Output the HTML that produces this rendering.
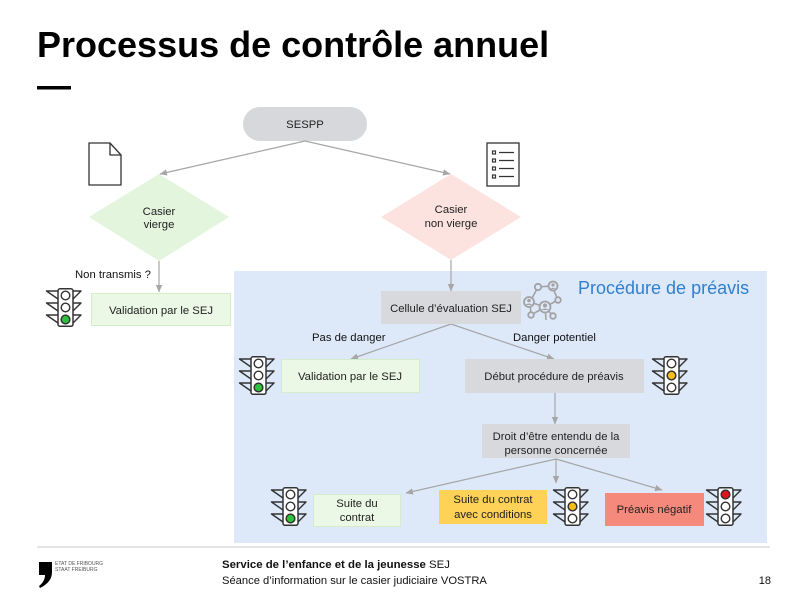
<!DOCTYPE html>
<html><head><meta charset="utf-8"><style>
html,body{margin:0;padding:0;background:#fff;}
body{width:796px;height:603px;overflow:hidden;position:relative;font-family:"Liberation Sans",Arial,sans-serif;}
svg{position:absolute;left:0;top:0;}
</style></head><body>
<svg width="796" height="603" viewBox="0 0 796 603" xmlns="http://www.w3.org/2000/svg" font-family="Liberation Sans, Arial, sans-serif">
<defs>
<marker id="ah" markerWidth="8" markerHeight="8" refX="7" refY="4" orient="auto" markerUnits="userSpaceOnUse">
<path d="M0,0.8 L7.5,4 L0,7.2 Z" fill="#a6a6a6"/>
</marker>
<g id="tl">
<rect x="13" y="0.8" width="15" height="37.5" rx="2" fill="#fff" stroke="#333" stroke-width="1.5"/>
<circle cx="20.5" cy="7.5" r="4.3" fill="#fff" stroke="#333" stroke-width="1.4"/>
<circle cx="20.5" cy="19.5" r="4.3" fill="#fff" stroke="#333" stroke-width="1.4"/>
<circle cx="20.5" cy="31.5" r="4.3" fill="#fff" stroke="#333" stroke-width="1.4"/>
<path d="M13,3 L1.5,3 L13,11 M13,15 L1.5,15 L13,23 M13,27 L1.5,27 L13,35 M28,3 L36,3 L28,11 M28,15 L36,15 L28,23 M28,27 L36,27 L28,35" fill="none" stroke="#333" stroke-width="1.4" stroke-linejoin="round"/>
</g>
</defs>

<!-- Title -->
<text x="37" y="57" font-size="36" font-weight="bold" fill="#000">Processus de contrôle annuel</text>
<rect x="37" y="86" width="34" height="3.5" fill="#000"/>

<!-- blue region -->
<rect x="234" y="271" width="533" height="272" fill="#dde9f9"/>
<text x="578" y="294" font-size="18" fill="#2f7fd0">Procédure de préavis</text>

<!-- SESPP -->
<rect x="243" y="107" width="124" height="34" rx="17" fill="#d6d8db"/>
<text x="305" y="128" font-size="11.3" text-anchor="middle" fill="#222">SESPP</text>

<!-- document icon -->
<path d="M89,143 L110,143 L121,155 L121,185 L89,185 Z M110,143 L110,155 L121,155" fill="#fff" stroke="#333" stroke-width="1.3" stroke-linejoin="round"/>

<!-- checklist icon -->
<rect x="487" y="143" width="32" height="43" fill="#fff" stroke="#333" stroke-width="1.3"/>
<g fill="none" stroke="#333" stroke-width="1.2">
<rect x="492.5" y="151" width="3" height="3"/><rect x="492.5" y="159" width="3" height="3"/><rect x="492.5" y="167" width="3" height="3"/><rect x="492.5" y="175" width="3" height="3"/>
<path d="M499,152.5 H514 M499,160.5 H514 M499,168.5 H514 M499,176.5 H514"/>
</g>

<!-- diamonds -->
<polygon points="159,174 229,217 159,261 89,217" fill="#e3f5dd"/>
<text x="159" y="215" font-size="11.3" text-anchor="middle" fill="#222">Casier</text>
<text x="159" y="228" font-size="11.3" text-anchor="middle" fill="#222">vierge</text>
<polygon points="451,174 521,217 451,260 381,217" fill="#fde3df"/>
<text x="451" y="213" font-size="11.3" text-anchor="middle" fill="#222">Casier</text>
<text x="451" y="227" font-size="11.3" text-anchor="middle" fill="#222">non vierge</text>

<!-- arrows -->
<g stroke="#a6a6a6" stroke-width="1.2" fill="none" marker-end="url(#ah)">
<path d="M305,141 L160,174"/>
<path d="M305,141 L450,174"/>
<path d="M159,261 L159,292"/>
<path d="M451,260 L451,291"/>
<path d="M451,324 L351,359"/>
<path d="M451,324 L554,359"/>
<path d="M555,393 L555,424"/>
<path d="M556,459 L406,493"/>
<path d="M556,459 L556,483"/>
<path d="M556,459 L662,490"/>
</g>

<text x="75" y="278" font-size="11.3" fill="#111">Non transmis ?</text>

<!-- Validation 1 -->
<rect x="91.5" y="293.5" width="139" height="32" fill="#ebf8e5" stroke="#d3ecca" stroke-width="1"/>
<text x="161" y="314" font-size="11.3" text-anchor="middle" fill="#222">Validation par le SEJ</text>
<use href="#tl" x="45" y="288"/>
<circle cx="65.5" cy="319.5" r="4.3" fill="#2fc13e" stroke="#333" stroke-width="1.4"/>

<!-- Cellule -->
<rect x="381" y="291" width="140" height="33" fill="#d7d9dc"/>
<text x="451" y="312" font-size="11.3" text-anchor="middle" fill="#222">Cellule d’évaluation SEJ</text>

<!-- network icon -->
<g stroke="#a2a2a4" stroke-width="1.6" fill="none">
<path d="M538,287 L552,286 L558,300 L545,307 L530,302 L538,287 M530,302 L531,315 L545,307 L553,316 M545,307 L546,320"/>
</g>
<g fill="#dde9f9" stroke="#a2a2a4" stroke-width="1.8">
<circle cx="538" cy="287" r="3.2"/><circle cx="553" cy="286" r="4.5"/><circle cx="558" cy="300" r="2.8"/>
<circle cx="529" cy="302" r="5"/><circle cx="545" cy="307" r="5.5"/><circle cx="531" cy="315" r="2.8"/><circle cx="553" cy="316" r="2.8"/>
</g>
<g fill="#a2a2a4">
<circle cx="529" cy="300.5" r="1.8"/><path d="M525.5,305 Q529,302 532.5,305 Z"/>
<circle cx="545" cy="305.5" r="2"/><path d="M541,310 Q545,307 549,310 Z"/>
<circle cx="553" cy="285" r="1.6"/><path d="M550,289 Q553,286.5 556,289 Z"/>
</g>

<text x="312" y="341" font-size="11.3" fill="#111">Pas de danger</text>
<text x="513" y="341" font-size="11.3" fill="#111">Danger potentiel</text>

<!-- Validation 2 -->
<rect x="281.5" y="359.5" width="138" height="33" fill="#ebf8e5" stroke="#d3ecca" stroke-width="1"/>
<text x="350" y="380" font-size="11.3" text-anchor="middle" fill="#222">Validation par le SEJ</text>
<use href="#tl" x="238" y="356"/>
<circle cx="258.5" cy="387.5" r="4.3" fill="#2fc13e" stroke="#333" stroke-width="1.4"/>

<!-- Debut -->
<rect x="465" y="359" width="179" height="34" fill="#d7d9dc"/>
<text x="554" y="380" font-size="11.3" text-anchor="middle" fill="#222">Début procédure de préavis</text>
<use href="#tl" x="651" y="356"/>
<circle cx="671.5" cy="375.5" r="4.3" fill="#f6bd16" stroke="#333" stroke-width="1.4"/>

<!-- Droit -->
<rect x="482" y="424" width="148" height="34" fill="#d7d9dc"/>
<text x="556" y="440" font-size="11.3" text-anchor="middle" fill="#222">Droit d’être entendu de la</text>
<text x="556" y="454" font-size="11.3" text-anchor="middle" fill="#222">personne concernée</text>

<!-- Suite du contrat -->
<rect x="313.5" y="494.5" width="87" height="32" fill="#ebf8e5" stroke="#d3ecca" stroke-width="1"/>
<text x="357" y="507" font-size="11.3" text-anchor="middle" fill="#222">Suite du</text>
<text x="357" y="521" font-size="11.3" text-anchor="middle" fill="#222">contrat</text>
<use href="#tl" x="270" y="487"/>
<circle cx="290.5" cy="518.5" r="4.3" fill="#2fc13e" stroke="#333" stroke-width="1.4"/>

<!-- avec conditions -->
<rect x="439" y="490" width="108" height="34" fill="#fdd257"/>
<text x="493" y="503" font-size="11.3" text-anchor="middle" fill="#222">Suite du contrat</text>
<text x="493" y="518" font-size="11.3" text-anchor="middle" fill="#222">avec conditions</text>
<use href="#tl" x="552" y="487"/>
<circle cx="572.5" cy="506.5" r="4.3" fill="#f6bd16" stroke="#333" stroke-width="1.4"/>

<!-- Préavis négatif -->
<rect x="605" y="493" width="99" height="33" fill="#f4897c"/>
<text x="654" y="513" font-size="11.3" text-anchor="middle" fill="#222">Préavis négatif</text>
<use href="#tl" x="705" y="487"/>
<circle cx="725.5" cy="494.5" r="4.3" fill="#e8121b" stroke="#333" stroke-width="1.4"/>

<!-- footer -->
<rect x="37" y="546.5" width="733" height="1" fill="#c9c9c9"/>
<path d="M39,562 L52,562 L52,572 C52,579 48,584 40,588 L39,586 C43,583 45,579 45,575 L39,575 Z" fill="#000"/>
<text x="55" y="565" font-size="5" fill="#555">ETAT DE FRIBOURG</text>
<text x="55" y="571" font-size="5" fill="#555">STAAT FREIBURG</text>
<text x="222" y="568" font-size="11.4" fill="#111"><tspan font-weight="bold">Service de l’enfance et de la jeunesse</tspan> SEJ</text>
<text x="222" y="584" font-size="11.2" fill="#111">Séance d’information sur le casier judiciaire VOSTRA</text>
<text x="771" y="584" font-size="11" text-anchor="end" fill="#111">18</text>
</svg>
</body></html>
